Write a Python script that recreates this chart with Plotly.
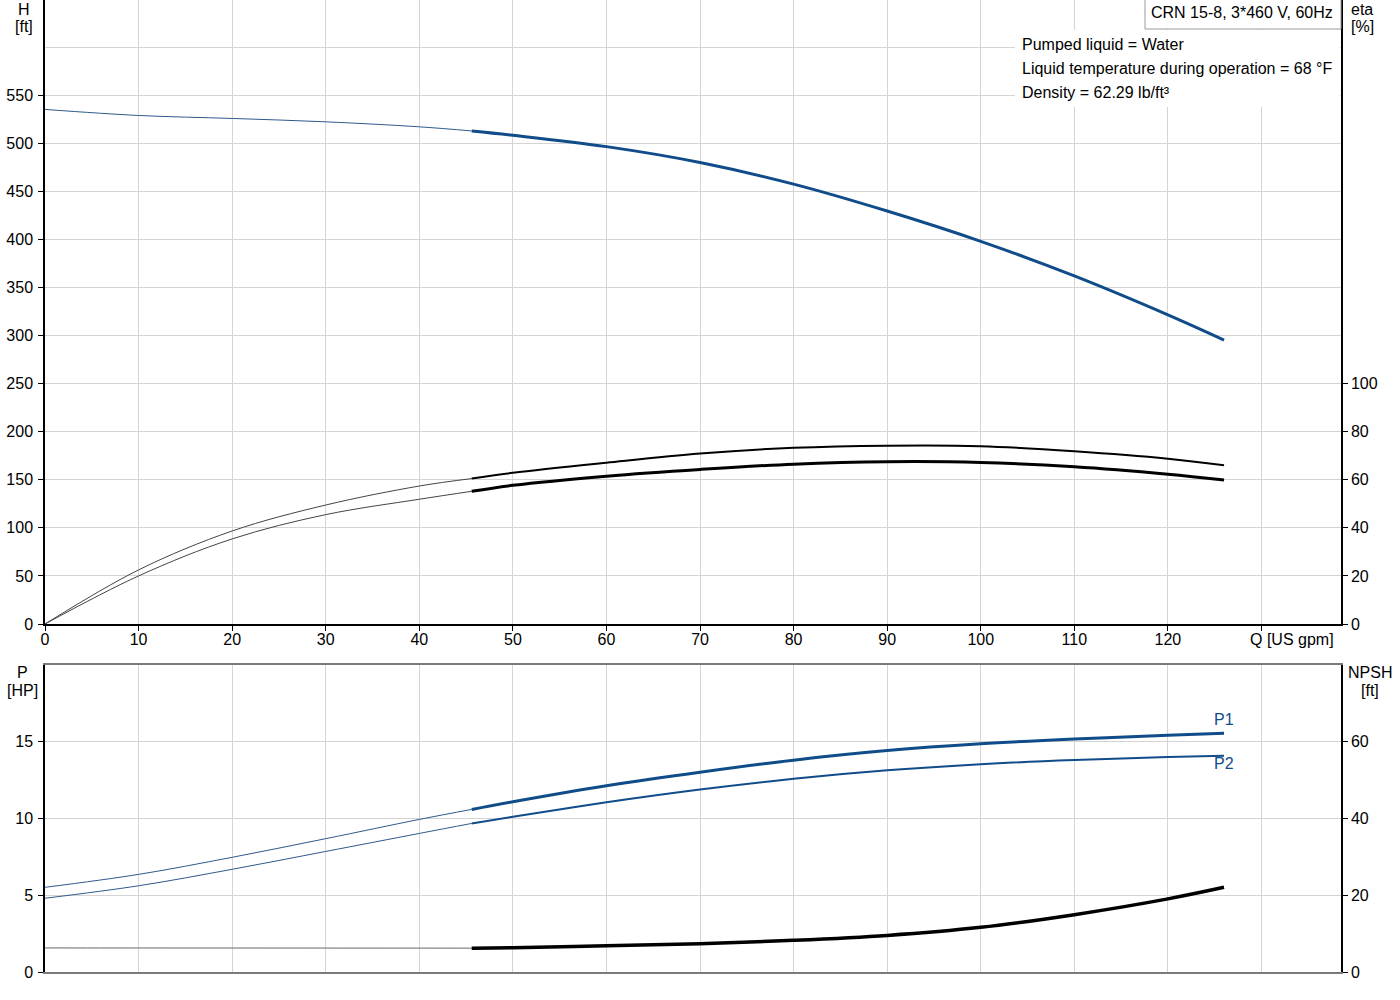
import plotly.graph_objects as go

# ---------------- data ----------------
# Head curve H [ft] vs Q [US gpm]
Q_thin = [0, 10, 20, 30, 40, 45.6]
Q_main = [45.6, 50, 60, 70, 80, 90, 100, 110, 120, 126]

H_thin = [535.2, 528.9, 525.8, 522.3, 517.1, 512.8]
H_main = [512.8, 508.3, 496.5, 480.0, 457.5, 429.5, 398.0, 362.0, 321.5, 295.3]

# Efficiency curves eta [%]
eta_a_thin = [0, 22.5, 38.7, 49.5, 57.4, 60.5]
eta_a_main = [60.5, 62.9, 67.1, 70.9, 73.3, 74.2, 74.0, 71.9, 68.8, 66.0]
eta_b_thin = [0, 20.0, 35.4, 45.5, 51.9, 55.2]
eta_b_main = [55.2, 57.7, 61.5, 64.3, 66.5, 67.5, 67.2, 65.4, 62.3, 59.9]

# Power curves P [HP]
P1_thin = [5.5, 6.34, 7.45, 8.66, 9.91, 10.56]
P1_main = [10.56, 11.06, 12.1, 12.98, 13.76, 14.38, 14.82, 15.13, 15.37, 15.5]
P2_thin = [4.79, 5.6, 6.67, 7.83, 9.0, 9.65]
P2_main = [9.65, 10.08, 11.02, 11.85, 12.55, 13.1, 13.5, 13.77, 13.96, 14.05]

# NPSH [ft]
NPSH_thin = [6.25, 6.24, 6.23, 6.22, 6.21, 6.2]
NPSH_main = [6.2, 6.3, 6.8, 7.36, 8.23, 9.5, 11.6, 14.9, 19.0, 22.0]

x_tickvals = [0, 10, 20, 30, 40, 50, 60, 70, 80, 90, 100, 110, 120, 130]
x_ticktext = ["0", "10", "20", "30", "40", "50", "60", "70", "80", "90",
              "100", "110", "120", ""]
x_title = "Q [US gpm]"
H_ticks = [0, 50, 100, 150, 200, 250, 300, 350, 400, 450, 500, 550]
eta_ticks = [0, 20, 40, 60, 80, 100]
P_ticks = [0, 5, 10, 15]
NPSH_ticks = [0, 20, 40, 60]

title = "CRN 15-8, 3*460 V, 60Hz"
info_lines = ["Pumped liquid = Water",
              "Liquid temperature during operation = 68 °F",
              "Density = 62.29 lb/ft³"]

# ---------------- style ----------------
BLUE = "#104c8a"
BLUE_THIN = "#2f5a8c"
BLACK = "#000000"
GRID = "#d4d4d4"
FONT = "Liberation Sans, Arial, sans-serif"
FS = 16

W, Hh = 1400, 1000
L, R, T, B = 45, 59, 0, 28
PW = W - L - R
PH = Hh - T - B


def xp(px):
    return (px - L) / PW


def yp(py):
    return (Hh - B - py) / PH


top_dom = [yp(624), 1.0]
bot_dom = [0.0, yp(665)]

X_MAX = 138.5
H_MAX = 649.0
ETA_MAX = H_MAX * 0.4
P_MAX = 19.94
NPSH_MAX = P_MAX * 4

fig = go.Figure()


def add(x, y, xa, ya, color, width):
    fig.add_trace(go.Scatter(x=x, y=y, xaxis=xa, yaxis=ya, mode="lines",
                             line=dict(color=color, width=width, shape="spline"),
                             hoverinfo="skip", showlegend=False))


# top panel
add(Q_thin, H_thin, "x", "y", BLUE_THIN, 1)
add(Q_main, H_main, "x", "y", BLUE, 3)
add(Q_thin, eta_a_thin, "x", "y3", "#444444", 1)
add(Q_main, eta_a_main, "x", "y3", BLACK, 2)
add(Q_thin, eta_b_thin, "x", "y3", "#444444", 1)
add(Q_main, eta_b_main, "x", "y3", BLACK, 3)

# bottom panel
add(Q_thin, P1_thin, "x2", "y2", BLUE_THIN, 1)
add(Q_main, P1_main, "x2", "y2", BLUE, 3)
add(Q_thin, P2_thin, "x2", "y2", BLUE_THIN, 1)
add(Q_main, P2_main, "x2", "y2", BLUE, 2)
add(Q_thin, NPSH_thin, "x2", "y4", "#666666", 1)
add(Q_main, NPSH_main, "x2", "y4", BLACK, 3.5)

tickfont = dict(family=FONT, size=FS, color="#000000")

fig.update_layout(
    width=W, height=Hh,
    margin=dict(l=L, r=R, t=T, b=B, pad=0),
    paper_bgcolor="white", plot_bgcolor="white",
    font=dict(family=FONT, size=FS, color="#000000"),
    xaxis=dict(domain=[0, 1], range=[0, X_MAX], anchor="y",
               tickvals=x_tickvals, ticktext=x_ticktext,
               ticks="outside", ticklen=5, tickcolor=BLACK,
               ticklabelstandoff=-5,
               showline=True, linecolor=BLACK, linewidth=1.5,
               showgrid=True, gridcolor=GRID, gridwidth=1,
               zeroline=False, tickfont=tickfont),
    yaxis=dict(domain=top_dom, range=[0, H_MAX], anchor="x",
               tickvals=H_ticks, ticks="outside", ticklen=5, tickcolor=BLACK,
               ticklabelstandoff=2,
               showline=True, linecolor=BLACK, linewidth=1.5,
               showgrid=True, gridcolor=GRID, gridwidth=1,
               minor=dict(dtick=50, tick0=0, showgrid=True, gridcolor=GRID,
                          gridwidth=1, ticks=""),
               zeroline=False, tickfont=tickfont),
    yaxis3=dict(overlaying="y", side="right", anchor="x",
                range=[0, ETA_MAX], tickvals=eta_ticks,
                ticks="outside", ticklen=5, tickcolor=BLACK,
                showline=True, linecolor=BLACK, linewidth=1.5,
                showgrid=False, zeroline=False, tickfont=tickfont),
    xaxis2=dict(domain=[0, 1], range=[0, X_MAX], anchor="y2",
                tickvals=x_tickvals, showticklabels=False, ticks="",
                showline=True, linecolor="#7a7a7a", linewidth=1.5, mirror=True,
                showgrid=True, gridcolor=GRID, gridwidth=1, zeroline=False),
    yaxis2=dict(domain=bot_dom, range=[0, P_MAX], anchor="x2",
                tickvals=P_ticks, ticks="outside", ticklen=5, tickcolor=BLACK,
                ticklabelstandoff=2,
                showline=True, linecolor=BLACK, linewidth=1.5,
                showgrid=True, gridcolor=GRID, gridwidth=1,
                zeroline=False, tickfont=tickfont),
    yaxis4=dict(overlaying="y2", side="right", anchor="x2",
                range=[0, NPSH_MAX], tickvals=NPSH_ticks,
                ticks="outside", ticklen=5, tickcolor=BLACK,
                showline=True, linecolor=BLACK, linewidth=1.5,
                showgrid=False, zeroline=False, tickfont=tickfont),
)

# white box behind info text and title box
fig.add_shape(type="rect", xref="paper", yref="paper",
              x0=xp(1015), x1=xp(1340), y0=yp(107), y1=yp(30),
              fillcolor="white", line=dict(width=0), layer="above")
fig.add_shape(type="rect", xref="paper", yref="paper",
              x0=xp(1145), x1=xp(1341), y0=yp(29), y1=yp(-2),
              fillcolor="white", line=dict(color="#9a9a9a", width=1), layer="above")

ann = []
ann.append(dict(text=title, x=xp(1335), y=yp(12), xanchor="right", yanchor="middle"))
for i, t in enumerate(info_lines):
    ann.append(dict(text=t, x=xp(1020), y=yp(44 + 24 * i), xanchor="left", yanchor="middle"))
axis_titles = [("H", 24, 9), ("[ft]", 24, 26),
               ("eta", 1362, 9), ("[%]", 1362, 26),
               ("P", 22, 672), ("[HP]", 22, 690),
               ("NPSH", 1370, 672), ("[ft]", 1370, 690)]
for t, px, py in axis_titles:
    ann.append(dict(text=t, x=xp(px), y=yp(py), xanchor="center", yanchor="middle",
                    borderpad=0))
for a in ann:
    a.update(xref="paper", yref="paper", showarrow=False,
             font=dict(family=FONT, size=FS, color="#000000"))
    fig.add_annotation(**a)

# x-axis title placed at the 130 tick position
fig.add_annotation(x=x_tickvals[-1], y=yp(639), xref="x", yref="paper", text=x_title,
                   showarrow=False, xanchor="left", yanchor="middle", xshift=-13,
                   font=dict(family=FONT, size=FS, color="#000000"))

# curve labels
fig.add_annotation(x=Q_main[-1], y=P1_main[-1], xref="x2", yref="y2", text="P1",
                   showarrow=False, yshift=14, font=dict(family=FONT, size=FS, color=BLUE))
fig.add_annotation(x=Q_main[-1], y=P2_main[-1], xref="x2", yref="y2", text="P2",
                   showarrow=False, yshift=-8, font=dict(family=FONT, size=FS, color=BLUE))

fig.write_html("out.html", config={"displayModeBar": False},
               post_script="document.body.style.margin='0';document.body.style.overflow='hidden';")
